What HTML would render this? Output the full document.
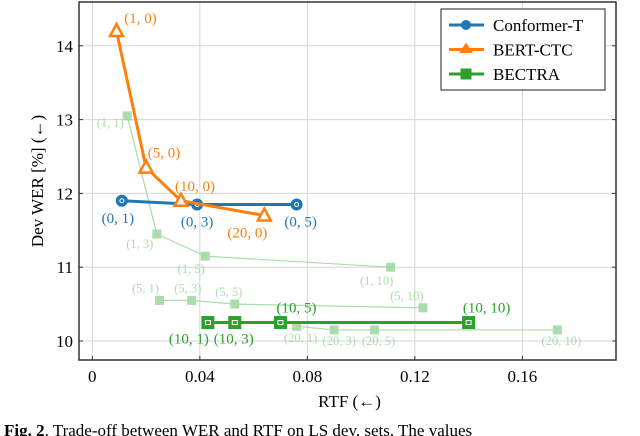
<!DOCTYPE html>
<html><head><meta charset="utf-8">
<style>
html,body{margin:0;padding:0;background:#fff;width:640px;height:436px;overflow:hidden}
svg{display:block;font-family:"Liberation Serif",serif}
</style></head>
<body>
<svg id="chart" width="640" height="436" viewBox="0 0 640 436" xmlns="http://www.w3.org/2000/svg"></svg>
<script>
const xTicks=[0,0.04,0.08,0.12,0.16];
const xTickLabels=["0","0.04","0.08","0.12","0.16"];
const yTicks=[10,11,12,13,14];
const yTickLabels=["10","11","12","13","14"];

const confX=[0.011,0.039,0.076];
const confY=[11.9,11.85,11.85];
const confLabels=["(0, 1)","(0, 3)","(0, 5)"];

const bertX=[0.009,0.020,0.033,0.064];
const bertY=[14.2,12.35,11.9,11.7];
const bertLabels=["(1, 0)","(5, 0)","(10, 0)","(20, 0)"];

const bectraX=[0.043,0.053,0.070,0.140];
const bectraY=[10.25,10.25,10.25,10.25];
const bectraLabels=["(10, 1)","(10, 3)","(10, 5)","(10, 10)"];

const f1X=[0.013,0.024,0.042,0.111];
const f1Y=[13.05,11.45,11.15,11.0];
const f1Labels=["(1, 1)","(1, 3)","(1, 5)","(1, 10)"];
const f5X=[0.025,0.037,0.053,0.123];
const f5Y=[10.55,10.55,10.5,10.45];
const f5Labels=["(5, 1)","(5, 3)","(5, 5)","(5, 10)"];
const f20X=[0.076,0.090,0.105,0.173];
const f20Y=[10.2,10.15,10.15,10.15];
const f20Labels=["(20, 1)","(20, 3)","(20, 5)","(20, 10)"];

const L=79,R=616,T=2,B=360;
const sx=v=>92.3+v*2688;
const sy=v=>341-(v-10)*73.8;
const svg=document.getElementById('chart');
const NS="http://www.w3.org/2000/svg";
function mk(tag,attrs,parent){const e=document.createElementNS(NS,tag);for(const k in attrs)e.setAttribute(k,attrs[k]);(parent||svg).appendChild(e);return e;}
function txt(s,x,y,size,fill,anchor,parent){const t=mk('text',{x:x,y:y,'font-size':size,fill:fill,'text-anchor':anchor||'middle'},parent);t.textContent=s;return t;}

const grid=mk('g',{});


xTicks.forEach(v=>mk('line',{x1:sx(v),x2:sx(v),y1:T,y2:B,stroke:'#d6d6d6','stroke-width':1},grid));
yTicks.forEach(v=>mk('line',{x1:L,x2:R,y1:sy(v),y2:sy(v),stroke:'#d6d6d6','stroke-width':1},grid));

const xax=mk('g',{});


xTicks.forEach((v,i)=>{mk('line',{x1:sx(v),x2:sx(v),y1:B,y2:B-4,stroke:'#333'},xax);txt(xTickLabels[i],sx(v),382,17,'#000','middle',xax);});
const yax=mk('g',{});


yTicks.forEach((v,i)=>{mk('line',{x1:L,x2:L+4,y1:sy(v),y2:sy(v),stroke:'#333'},yax);mk('line',{x1:R,x2:R-4,y1:sy(v),y2:sy(v),stroke:'#333'},yax);txt(yTickLabels[i],L-6,sy(v)+6,17,'#000','end',yax);});
const xt=txt('RTF (\u2190)',(L+R)/2+2,407,17,'#000');


const yt=txt('Dev WER [%] (\u2190)',0,0,17,'#000');
yt.setAttribute('transform','translate(43,181) rotate(-90)');



const fc='#8fd18f';
function faint(X,Y,labs,offs,name){
  const g=mk('g',{opacity:0.75});
  
  
  mk('polyline',{points:X.map((x,i)=>sx(x)+','+sy(Y[i])).join(' '),fill:'none',stroke:fc,'stroke-width':1.2},g);
  X.forEach((x,i)=>{mk('rect',{x:sx(x)-4.5,y:sy(Y[i])-4.5,width:9,height:9,fill:fc},g);
    txt(labs[i],sx(x)+offs[i][0],sy(Y[i])+offs[i][1],12.5,'#8fd18f','middle',g);});
}
faint(f1X,f1Y,f1Labels,[[-17,11],[-17,14],[-14,17],[-14,18]],'bectra-faint-k1');
faint(f5X,f5Y,f5Labels,[[-14,-8],[-4,-8],[-6,-8],[-16,-8]],'bectra-faint-k5');
faint(f20X,f20Y,f20Labels,[[4,16],[5,15],[4,15],[4,15]],'bectra-faint-k20');

function series(X,Y,labs,offs,color,marker,name){
  const g=mk('g',{});
  
  
  mk('polyline',{points:X.map((x,i)=>sx(x)+','+sy(Y[i])).join(' '),fill:'none',stroke:color,'stroke-width':3},g);
  X.forEach((x,i)=>{const px=sx(x),py=sy(Y[i]);
    if(marker==='circle'){mk('circle',{cx:px,cy:py,r:6,fill:color},g);mk('circle',{cx:px,cy:py,r:2,fill:'none',stroke:'#fff','stroke-width':1},g);}
    else if(marker==='tri'){mk('polygon',{points:`${px},${py-7} ${px-6.5},${py+5} ${px+6.5},${py+5}`,fill:'#fff',stroke:color,'stroke-width':2.5},g);}
    else {mk('rect',{x:px-6.5,y:py-6.5,width:13,height:13,fill:color},g);mk('rect',{x:px-2.5,y:py-2,width:5,height:4,fill:'none',stroke:'#fff','stroke-width':1},g);}
    txt(labs[i],px+offs[i][0],py+offs[i][1],15,color,'middle',g);});
}
series(bectraX,bectraY,bectraLabels,[[-19,21],[-1,21],[16,-10],[18,-10]],'#2ca02c','sq','series-bectra');
series(confX,confY,confLabels,[[-4,22],[0,22],[4,22]],'#1f77b4','circle','series-conformer-t');
series(bertX,bertY,bertLabels,[[24,-8],[18,-10],[14,-10],[-17,22]],'#ff7f0e','tri','series-bert-ctc');

mk('rect',{x:L,y:T,width:R-L,height:B-T,fill:'none',stroke:'#333','stroke-width':1.5});

const lg=mk('g',{});


mk('rect',{x:441,y:9,width:164,height:81,fill:'#fff',stroke:'#222','stroke-width':1},lg);
const items=[['Conformer-T','#1f77b4','circle'],['BERT-CTC','#ff7f0e','tri'],['BECTRA','#2ca02c','sq']];
items.forEach((it,i)=>{const y=25+i*24.5;
  const e=mk('g',{},lg);
  
  
  mk('line',{x1:449,x2:484,y1:y,y2:y,stroke:it[1],'stroke-width':3},e);
  if(it[2]==='circle')mk('circle',{cx:466,cy:y,r:5,fill:it[1]},e);
  else if(it[2]==='tri')mk('polygon',{points:`466,${y-6} 460,${y+3} 472,${y+3}`,fill:it[1],stroke:it[1],'stroke-width':1},e);
  else mk('rect',{x:460.5,y:y-5.5,width:11,height:11,fill:it[1]},e);
  txt(it[0],493,y+6,17,'#000','start',e);});

const cap=txt('',4,436,17,'#000','start');


const b=mk('tspan',{'font-weight':'bold'},cap);b.textContent='Fig. 2';
const r=mk('tspan',{},cap);r.textContent='.  Trade-off between WER and RTF on LS dev. sets. The values';
</script>
</body></html>
